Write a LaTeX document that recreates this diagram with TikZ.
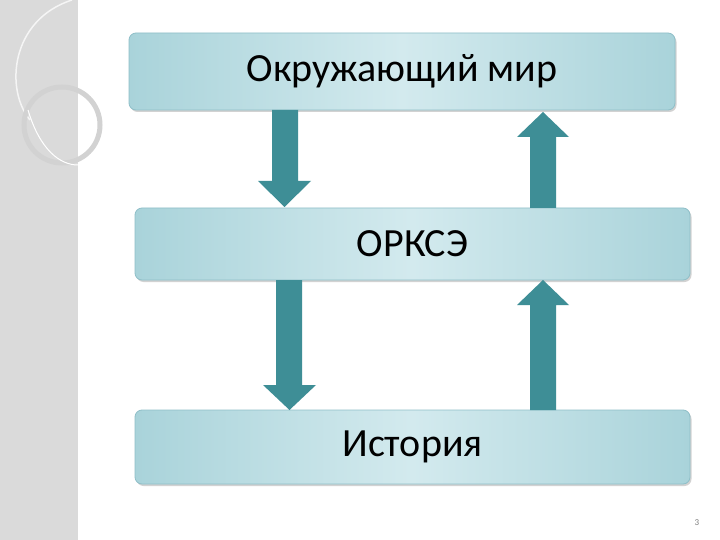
\documentclass[tikz,border=0pt]{standalone}
\usepackage{fontspec}
\setmainfont{Carlito}
\usetikzlibrary{shadows}
\definecolor{boxA}{HTML}{A9D3DA}
\definecolor{boxB}{HTML}{D3EAEE}
\definecolor{boxE}{HTML}{8FBFC8}
\definecolor{arr}{HTML}{3E8E96}
\definecolor{arrL}{HTML}{5AA8B0}
\definecolor{strip}{HTML}{DADADA}
\tikzset{
  topic/.style={rectangle, rounded corners=7pt, draw=boxE, line width=0.8pt,
    left color=boxA, right color=boxA, middle color=boxB,
    drop shadow={shadow xshift=1.5pt, shadow yshift=-2pt, opacity=0.35},
    font=\fontsize{40}{44}\selectfont, inner sep=0pt},
  bigarrow/.style={fill=arr, draw=none}
}
\begin{document}
\begin{tikzpicture}[x=1pt,y=-1pt]
\useasboundingbox (0,0) rectangle (720,540);
\fill[white] (0,0) rectangle (720,540);
% left decorative strip
\fill[strip] (0,0) rectangle (78,540);
\draw[white!92!gray, line width=1.5pt] (72,0) .. controls (10,20) and (5,90) .. (30,120);
\draw[gray!35, line width=5pt] (62,125) circle (38);
\draw[white, line width=1pt] (28,110) .. controls (40,150) and (60,165) .. (78,165);
% boxes
\node[topic, minimum width=546pt, minimum height=77pt] (b1) at (402,71.5) {Окружающий мир};
\node[topic, minimum width=555pt, minimum height=72pt] (b2) at (412.5,244) {ОРКСЭ};
\node[topic, minimum width=555pt, minimum height=74pt] (b3) at (412.5,447) {История};
% arrows
\coordinate (d1s) at (285,110);
\fill[bigarrow] (272,110) rectangle (298,181) (258,181) -- (311,181) -- (284.5,207) -- cycle;
\fill[bigarrow] (530,208) rectangle (556,137) (517,137) -- (569,137) -- (543,112) -- cycle;
\fill[bigarrow] (276,280) rectangle (302,385) (263,385) -- (316,385) -- (289.5,410) -- cycle;
\fill[bigarrow] (530,410) rectangle (556,305) (517,305) -- (569,305) -- (543,280) -- cycle;
\node[font=\fontsize{9}{10}\selectfont, text=gray] (pg) at (697,523) {3};
\end{tikzpicture}
\end{document}
